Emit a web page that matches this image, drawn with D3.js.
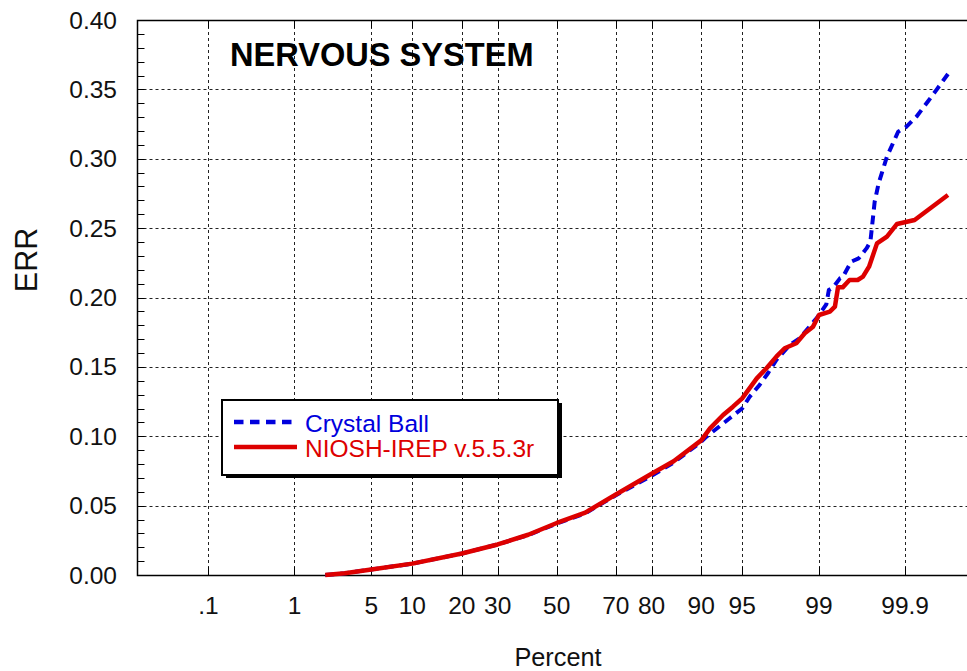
<!DOCTYPE html>
<html>
<head>
<meta charset="utf-8">
<script src="https://cdn.jsdelivr.net/npm/d3@7"></script>
<style>
  html, body { margin: 0; padding: 0; background: #fff; }
  svg { display: block; font-family: "Liberation Sans", Arial, sans-serif; }
</style>
</head>
<body>
<svg id="chart" width="967" height="671"></svg>
<script>
// ---------------- DATA ----------------
const xTickPercents = [0.1, 1, 5, 10, 20, 30, 50, 70, 80, 90, 95, 99, 99.9];
const xTickLabels   = [".1", "1", "5", "10", "20", "30", "50", "70", "80", "90", "95", "99", "99.9"];
const yTicks = [0, 0.05, 0.10, 0.15, 0.20, 0.25, 0.30, 0.35, 0.40];
const yTickLabels = ["0.00", "0.05", "0.10", "0.15", "0.20", "0.25", "0.30", "0.35", "0.40"];
const xDomainPercent = [0.01, 99.99];
const yDomain = [0, 0.4];

const seriesNames = ["Crystal Ball", "NIOSH-IREP v.5.5.3r"];

// Crystal Ball (blue dashed)
const bluePercent = [2, 3, 5, 10, 20, 30, 40, 50, 60, 70, 80, 85, 90, 90.8, 93.75, 95.0, 95.65, 96.4, 96.95,
  97.43, 98.06, 98.44, 98.94, 99.16, 99.21, 99.29, 99.40, 99.44, 99.55, 99.63, 99.70, 99.73, 99.76,
  99.785, 99.83, 99.877, 99.904, 99.929, 99.950, 99.962, 99.974];
const blueERR = [0, 0.0012, 0.004, 0.0082, 0.0155, 0.022, 0.0288, 0.037, 0.0445, 0.0575, 0.0715, 0.081, 0.096, 0.0997, 0.113, 0.12, 0.1285, 0.137, 0.1454,
  0.155, 0.1658, 0.1706, 0.185, 0.195, 0.2054, 0.2073, 0.2138, 0.2146, 0.2258, 0.2282, 0.2354, 0.2402, 0.2690,
  0.2823, 0.3015, 0.3195, 0.3231, 0.3303, 0.3411, 0.3495, 0.3611];

// NIOSH-IREP v.5.5.3r (red solid)
const redPercent = [2, 3, 5, 10, 20, 30, 40, 50, 60, 70, 80, 85, 90, 91.3, 93.0, 94.1, 95.0, 96.2, 96.86,
  97.43, 97.84, 98.32, 98.61, 98.85, 99.0, 99.23, 99.32, 99.37, 99.44, 99.53, 99.62, 99.67, 99.72,
  99.775, 99.83, 99.873, 99.925, 99.974];
const redERR = [0, 0.0012, 0.004, 0.0082, 0.0155, 0.022, 0.029, 0.0375, 0.045, 0.058, 0.073, 0.082, 0.097, 0.1057, 0.1153, 0.1213, 0.1273, 0.1417, 0.149,
  0.1574, 0.1634, 0.167, 0.1742, 0.179, 0.1874, 0.1898, 0.1934, 0.2073, 0.2073, 0.2126, 0.2126, 0.215, 0.2222,
  0.239, 0.2439, 0.253, 0.2559, 0.2739];

// ---------------- HELPERS ----------------
// inverse normal CDF (Acklam)
function qnorm(p) {
  const a = [-3.969683028665376e+01, 2.209460984245205e+02, -2.759285104469687e+02, 1.383577518672690e+02, -3.066479806614716e+01, 2.506628277459239e+00];
  const b = [-5.447609879822406e+01, 1.615858368580409e+02, -1.556989798598866e+02, 6.680131188771972e+01, -1.328068155288572e+01];
  const c = [-7.784894002430293e-03, -3.223964580411365e-01, -2.400758277161838e+00, -2.549732539343734e+00, 4.374664141464968e+00, 2.938163982698783e+00];
  const d = [7.784695709041462e-03, 3.224671290700398e-01, 2.445134137142996e+00, 3.754408661907416e+00];
  const pl = 0.02425, ph = 1 - pl;
  let q, r;
  if (p < pl) {
    q = Math.sqrt(-2 * Math.log(p));
    return (((((c[0]*q+c[1])*q+c[2])*q+c[3])*q+c[4])*q+c[5]) / ((((d[0]*q+d[1])*q+d[2])*q+d[3])*q+1);
  } else if (p <= ph) {
    q = p - 0.5; r = q*q;
    return (((((a[0]*r+a[1])*r+a[2])*r+a[3])*r+a[4])*r+a[5])*q / (((((b[0]*r+b[1])*r+b[2])*r+b[3])*r+b[4])*r+1);
  } else {
    q = Math.sqrt(-2 * Math.log(1 - p));
    return -(((((c[0]*q+c[1])*q+c[2])*q+c[3])*q+c[4])*q+c[5]) / ((((d[0]*q+d[1])*q+d[2])*q+d[3])*q+1);
  }
}

// ---------------- LAYOUT ----------------
const L = 137.5, R = 976, T = 20, B = 575;
const BLUE = "#0000dd", RED = "#dd0000";

const zScale = d3.scaleLinear()
  .domain([qnorm(xDomainPercent[0] / 100), qnorm(xDomainPercent[1] / 100)])
  .range([L, R]);
const x = pct => zScale(qnorm(pct / 100));
const y = d3.scaleLinear().domain(yDomain).range([B, T]);

const svg = d3.select("#chart");

// gridlines
const grid = svg.append("g").attr("stroke", "#222").attr("stroke-width", 1).attr("stroke-dasharray", "3,3");
grid.selectAll("line.h").data(yTicks.slice(1, -1)).enter().append("line")
  .attr("x1", L).attr("x2", R)
  .attr("y1", d => Math.round(y(d)) + 0.5).attr("y2", d => Math.round(y(d)) + 0.5);
grid.selectAll("line.v").data(xTickPercents).enter().append("line")
  .attr("x1", d => Math.round(x(d)) + 0.5).attr("x2", d => Math.round(x(d)) + 0.5)
  .attr("y1", T).attr("y2", B);

// minor y ticks (inside)
const minor = d3.range(0, 0.4001, 0.01);
svg.append("g").attr("stroke", "#000").selectAll("line").data(minor).enter().append("line")
  .attr("x1", L).attr("x2", L + 7)
  .attr("y1", d => Math.round(y(d)) + 0.5).attr("y2", d => Math.round(y(d)) + 0.5);

// x ticks (inside, top and bottom)
const xt = svg.append("g").attr("stroke", "#000");
xt.selectAll("line.b").data(xTickPercents).enter().append("line")
  .attr("x1", d => Math.round(x(d)) + 0.5).attr("x2", d => Math.round(x(d)) + 0.5)
  .attr("y1", B).attr("y2", B - 8);
xt.selectAll("line.t").data(xTickPercents).enter().append("line")
  .attr("x1", d => Math.round(x(d)) + 0.5).attr("x2", d => Math.round(x(d)) + 0.5)
  .attr("y1", T).attr("y2", T + 8);

// frame
svg.append("rect").attr("x", L).attr("y", T + 0.5).attr("width", R - L).attr("height", B - T)
  .attr("fill", "none").attr("stroke", "#000").attr("stroke-width", 1.5);

// tick labels
svg.append("g").selectAll("text").data(xTickPercents).enter().append("text")
  .attr("x", d => x(d)).attr("y", 614).attr("text-anchor", "middle")
  .attr("font-size", 24.5).attr("fill", "#111")
  .text((d, i) => xTickLabels[i]);
svg.append("g").selectAll("text").data(yTicks).enter().append("text")
  .attr("x", 117).attr("y", d => y(d) + 8.5).attr("text-anchor", "end")
  .attr("font-size", 24.5).attr("fill", "#111")
  .text((d, i) => yTickLabels[i]);

// axis titles
svg.append("text").attr("x", 558).attr("y", 666).attr("text-anchor", "middle")
  .attr("font-size", 25.3).attr("fill", "#111").text("Percent");
svg.append("text").attr("transform", "translate(37,260) rotate(-90)").attr("text-anchor", "middle")
  .attr("font-size", 30.5).attr("fill", "#111").text("ERR");

// chart title
svg.append("text").attr("x", 230).attr("y", 66).attr("font-size", 32.6).attr("font-weight", "bold")
  .attr("fill", "#000").text("NERVOUS SYSTEM");

// lines
const line = d3.line().x(d => x(d[0])).y(d => y(d[1])).curve(d3.curveLinear);
const blueData = bluePercent.map((p, i) => [p, blueERR[i]]);
const redData = redPercent.map((p, i) => [p, redERR[i]]);

svg.append("path").datum(blueData).attr("d", line)
  .attr("fill", "none").attr("stroke", BLUE).attr("stroke-width", 4)
  .attr("stroke-dasharray", "9,6").attr("stroke-linejoin", "round");
svg.append("path").datum(redData).attr("d", line)
  .attr("fill", "none").attr("stroke", RED).attr("stroke-width", 4.5)
  .attr("stroke-linejoin", "round");

// legend
const lg = svg.append("g");
lg.append("rect").attr("x", 226).attr("y", 403).attr("width", 336).attr("height", 75).attr("fill", "#000");
lg.append("rect").attr("x", 222).attr("y", 400).attr("width", 336).attr("height", 75)
  .attr("fill", "#fff").attr("stroke", "#000").attr("stroke-width", 2);
lg.append("line").attr("x1", 234).attr("x2", 297).attr("y1", 422).attr("y2", 422)
  .attr("stroke", BLUE).attr("stroke-width", 4.5).attr("stroke-dasharray", "9.5,6.5");
lg.append("line").attr("x1", 234).attr("x2", 297).attr("y1", 447).attr("y2", 447)
  .attr("stroke", RED).attr("stroke-width", 4.5);
lg.append("text").attr("x", 305).attr("y", 431.5).attr("font-size", 24.5).attr("fill", BLUE).text(seriesNames[0]);
lg.append("text").attr("x", 305).attr("y", 457).attr("font-size", 24.5).attr("fill", RED).text(seriesNames[1]);
</script>
</body>
</html>
